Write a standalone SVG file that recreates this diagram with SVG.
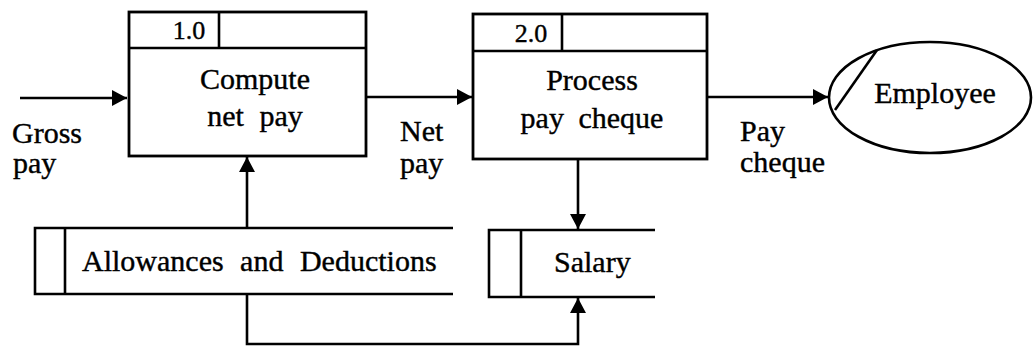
<svg xmlns="http://www.w3.org/2000/svg" width="1034" height="347" viewBox="0 0 1034 347">
<defs>
<style>
.ln{fill:none;stroke:#000;stroke-width:2.6}
.bx{fill:#fff;stroke:#000;stroke-width:2.8}
text{font-family:"Liberation Serif","Times New Roman",serif;fill:#000;stroke:#000;stroke-width:0.4}
.t{font-size:30px}
.c{text-anchor:middle}
.n{font-size:26px;text-anchor:middle}
</style>
<marker id="ah" markerUnits="userSpaceOnUse" markerWidth="16" markerHeight="16" viewBox="0 0 16 16" refX="15" refY="8" orient="auto">
<path d="M0,0 L15,8 L0,16 Z" fill="#000"/>
</marker>
</defs>
<rect width="1034" height="347" fill="#fff"/>
<g id="connectors">
<line class="ln" x1="20" y1="98" x2="127" y2="98" marker-end="url(#ah)"/>
<line class="ln" x1="366" y1="97" x2="472" y2="97" marker-end="url(#ah)"/>
<line class="ln" x1="707" y1="97" x2="828" y2="97" marker-end="url(#ah)"/>
<line class="ln" x1="247" y1="228" x2="247" y2="157" marker-end="url(#ah)"/>
<line class="ln" x1="578" y1="159" x2="578" y2="229" marker-end="url(#ah)"/>
<polyline class="ln" points="247,294 247,344 578,344 578,298" marker-end="url(#ah)"/>
</g>
<g id="lbl-gross">
<text class="t" x="12" y="143">Gross</text>
<text class="t" x="13" y="173">pay</text>
</g>
<g id="lbl-net">
<text class="t" x="400" y="141">Net</text>
<text class="t" x="400" y="173">pay</text>
</g>
<g id="lbl-paycheque">
<text class="t" x="740" y="141">Pay</text>
<text class="t" x="740" y="172">cheque</text>
</g>
<g id="p1">
<rect class="bx" x="129" y="12" width="237" height="144"/>
<line class="ln" x1="129" y1="48" x2="366" y2="48"/>
<line class="ln" x1="219" y1="12" x2="219" y2="48"/>
<text class="n" x="189" y="39">1.0</text>
<text class="t c" x="255" y="89">Compute</text>
<text class="t c" x="255" y="126" word-spacing="8">net pay</text>
</g>
<g id="p2">
<rect class="bx" x="473" y="14" width="234" height="145"/>
<line class="ln" x1="473" y1="51" x2="707" y2="51"/>
<line class="ln" x1="562" y1="14" x2="562" y2="51"/>
<text class="n" x="531" y="42">2.0</text>
<text class="t c" x="592" y="90">Process</text>
<text class="t c" x="592" y="128" word-spacing="7">pay cheque</text>
</g>
<g id="employee">
<ellipse cx="930" cy="97.5" rx="101" ry="55.5" fill="#fff" stroke="#000" stroke-width="2.6"/>
<line class="ln" x1="877" y1="50" x2="835" y2="110"/>
<text class="t c" x="935" y="103">Employee</text>
</g>
<g id="store-allowances">
<polyline class="ln" points="453,228 35,228 35,294 453,294"/>
<line class="ln" x1="65" y1="228" x2="65" y2="294"/>
<text x="82" y="271" font-size="30" word-spacing="9">Allowances and Deductions</text>
</g>
<g id="store-salary">
<polyline class="ln" points="655,230 489,230 489,297 655,297"/>
<line class="ln" x1="521" y1="230" x2="521" y2="297"/>
<text class="t" x="554" y="272">Salary</text>
</g>
</svg>
